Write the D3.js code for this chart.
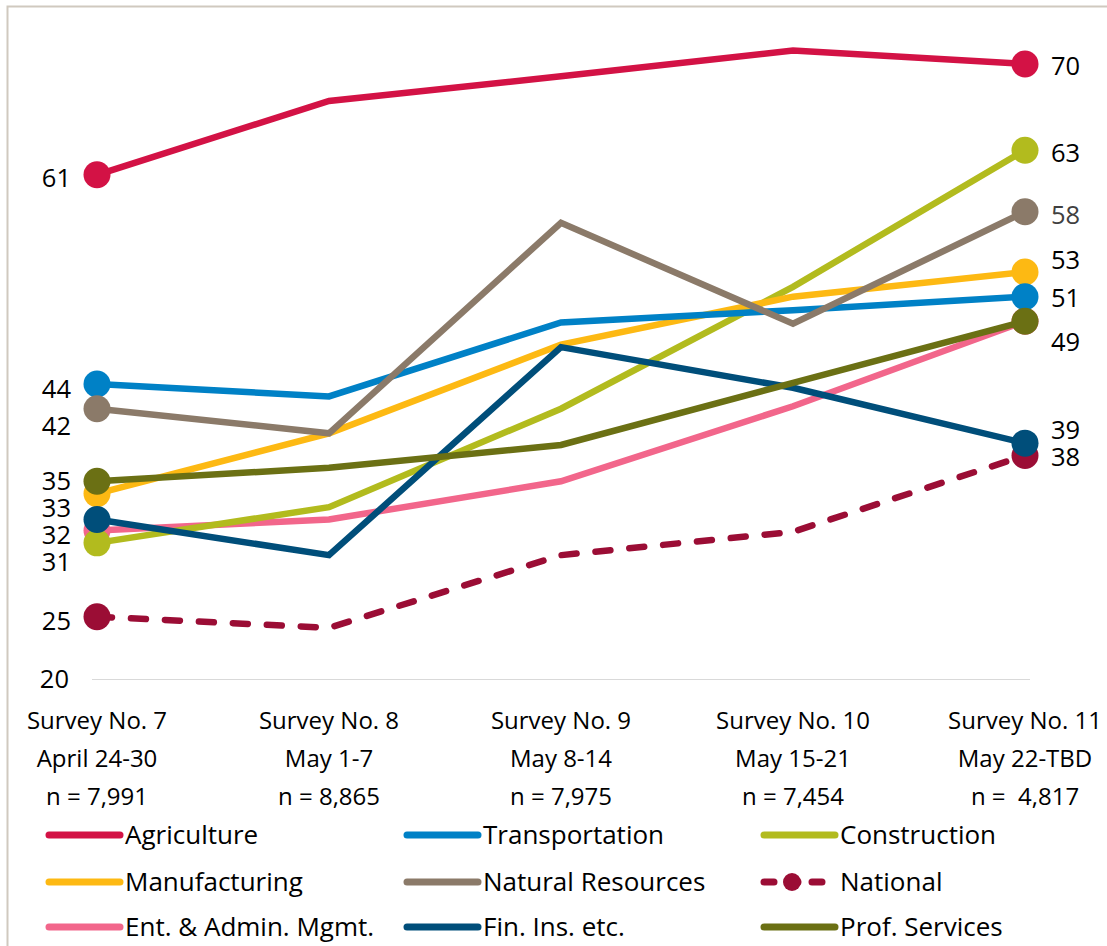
<!DOCTYPE html>
<html>
<head>
<meta charset="utf-8">
<script src="https://cdn.jsdelivr.net/npm/d3@7"></script>
<style>
body { margin: 0; background: #fff; }
svg { display: block; font-family: "Open Sans", sans-serif; }
text { white-space: pre; }
</style>
</head>
<body>
<svg width="1107" height="946"></svg>
<script>
// x categories (three text lines each)
var surveys = ["Survey No. 7", "Survey No. 8", "Survey No. 9", "Survey No. 10", "Survey No. 11"];
var dates = ["April 24-30", "May 1-7", "May 8-14", "May 15-21", "May 22-TBD"];
var sampleSizes = ["n = 7,991", "n = 8,865", "n = 7,975", "n = 7,454", "n =  4,817"];

// series values
var agriculture    = [61, 67, 69, 71.1, 70];
var transportation = [44, 43, 49, 50, 51.1];
var construction   = [31.1, 34, 42, 51.9, 63];
var manufacturing  = [35.1, 40, 47.2, 51.1, 53.1];
var naturalRes     = [42, 40, 57.1, 48.9, 58];
var national       = [25.1, 24.2, 30.1, 32, 38.2];
var entAdmin       = [32.1, 33, 36.1, 42.2, 49.1];
var finIns         = [33, 30.1, 47, 43.7, 39.2];
var profServices   = [36.1, 37.2, 39.05, 44.1, 49.1];

// legend order (row by row)
var legendNames = ["Agriculture", "Transportation", "Construction",
                   "Manufacturing", "Natural Resources", "National",
                   "Ent. & Admin. Mgmt.", "Fin. Ins. etc.", "Prof. Services"];

// end labels: [series, text]
var leftLabels = [["Agriculture", "61"], ["Transportation", "44"], ["Natural Resources", "42"],
                  ["Prof. Services", "35"], ["Manufacturing", "33"], ["Ent. & Admin. Mgmt.", "32"],
                  ["Construction", "31"], ["National", "25"]];
var rightLabels = [["Agriculture", "70"], ["Construction", "63"], ["Natural Resources", "58"],
                   ["Manufacturing", "53"], ["Transportation", "51"], ["Prof. Services", "49"],
                   ["Fin. Ins. etc.", "39"], ["National", "38"]];

var yTicks = [20];

var values = {
  "Agriculture": agriculture,
  "Transportation": transportation,
  "Construction": construction,
  "Manufacturing": manufacturing,
  "Natural Resources": naturalRes,
  "National": national,
  "Ent. & Admin. Mgmt.": entAdmin,
  "Fin. Ins. etc.": finIns,
  "Prof. Services": profServices
};

var colors = {
  "Agriculture": "#d31245",
  "Transportation": "#0081c6",
  "Construction": "#b2bb1e",
  "Manufacturing": "#fdb913",
  "Natural Resources": "#8b7a69",
  "National": "#9b0d35",
  "Ent. & Admin. Mgmt.": "#f2668b",
  "Fin. Ins. etc.": "#004e7a",
  "Prof. Services": "#6b7014"
};

// which series gets drawn first (bottom) to last (top)
var drawOrder = ["National", "Ent. & Admin. Mgmt.", "Construction", "Manufacturing",
                 "Transportation", "Natural Resources", "Fin. Ins. etc.", "Prof. Services", "Agriculture"];

// label nudges in px (the original labels are shifted to avoid overlap)
var leftNudge = {"61": 3, "44": 5, "42": 17, "35": 0, "33": 14, "32": 5, "31": 19, "25": 4};
var rightNudge = {"70": 2, "63": 3, "58": 3, "53": -12, "51": 1, "49": 21, "39": -13, "38": 2};

var svg = d3.select("svg");

// frame
svg.append("path")
  .attr("d", "M7.5,946V6.5H1107")
  .attr("fill", "none")
  .attr("stroke", "#d0c9bf")
  .attr("stroke-width", 2);

var x = d3.scalePoint().domain(surveys).range([97, 1025]);
var y = d3.scaleLinear().domain([20, 72]).range([679.5, 39.4]);

// baseline
svg.append("line")
  .attr("x1", 92).attr("x2", 1030)
  .attr("y1", y(20)).attr("y2", y(20))
  .attr("stroke", "#d9d9d9").attr("stroke-width", 1.2);

svg.selectAll(".ytick").data(yTicks).enter().append("text")
  .attr("x", 69).attr("y", function(d) { return y(d); })
  .attr("dy", "0.35em")
  .attr("text-anchor", "end")
  .style("font-size", "25.5px")
  .text(function(d) { return d; });

// x labels
var xl = svg.append("g").selectAll("g").data(surveys).enter().append("g")
  .attr("transform", function(d) { return "translate(" + x(d) + ",0)"; });
xl.append("text").attr("y", 729).attr("text-anchor", "middle").style("font-size", "24px")
  .text(function(d) { return d; });
xl.append("text").attr("y", 767).attr("text-anchor", "middle").style("font-size", "24px")
  .text(function(d, i) { return dates[i]; });
xl.append("text").attr("y", 805).attr("text-anchor", "middle").style("font-size", "24px")
  .text(function(d, i) { return sampleSizes[i]; });

var line = d3.line()
  .x(function(d, i) { return x(surveys[i]); })
  .y(function(d) { return y(d); });

drawOrder.forEach(function(name) {
  var v = values[name];
  var g = svg.append("g");
  g.append("path")
    .attr("d", line(v))
    .attr("fill", "none")
    .attr("stroke", colors[name])
    .attr("stroke-width", 6.5)
    .attr("stroke-linejoin", "miter")
    .attr("stroke-linecap", name == "National" ? "round" : "butt")
    .attr("stroke-dasharray", name == "National" ? "15,19" : null);
  g.selectAll("circle").data([0, v.length - 1]).enter().append("circle")
    .attr("cx", function(i) { return x(surveys[i]); })
    .attr("cy", function(i) { return y(v[i]); })
    .attr("r", 13.5)
    .attr("fill", colors[name]);
});

// end value labels
svg.selectAll(".ll").data(leftLabels).enter().append("text")
  .attr("x", 71)
  .attr("y", function(d) { return y(values[d[0]][0]) + leftNudge[d[1]]; })
  .attr("dy", "0.35em")
  .attr("text-anchor", "end")
  .style("font-size", "25.5px")
  .text(function(d) { return d[1]; });

svg.selectAll(".rl").data(rightLabels).enter().append("text")
  .attr("x", 1051)
  .attr("y", function(d) { return y(values[d[0]][4]) + rightNudge[d[1]]; })
  .attr("dy", "0.35em")
  .style("font-size", "25.5px")
  .attr("fill", function(d) { return d[1] == "58" ? "#404040" : "#000"; })
  .text(function(d) { return d[1]; });

// legend
var colX = [47, 405, 762];
var rowY = [835, 882, 927];
var lg = svg.append("g").selectAll("g").data(legendNames).enter().append("g")
  .attr("transform", function(d, i) { return "translate(" + colX[i % 3] + "," + rowY[Math.floor(i / 3)] + ")"; });
lg.append("line")
  .attr("x1", 2).attr("x2", 73).attr("y1", 0).attr("y2", 0)
  .attr("stroke", function(d) { return colors[d]; })
  .attr("stroke-width", 7)
  .attr("stroke-linecap", "round")
  .attr("stroke-dasharray", function(d) { return d == "National" ? "10,14" : null; });
lg.filter(function(d) { return d == "National"; }).append("circle")
  .attr("cx", 30).attr("cy", 0).attr("r", 9)
  .attr("fill", colors["National"]);
lg.append("text")
  .attr("x", 78).attr("dy", "0.35em")
  .style("font-size", "26px")
  .text(function(d) { return d; });
</script>
</body>
</html>
